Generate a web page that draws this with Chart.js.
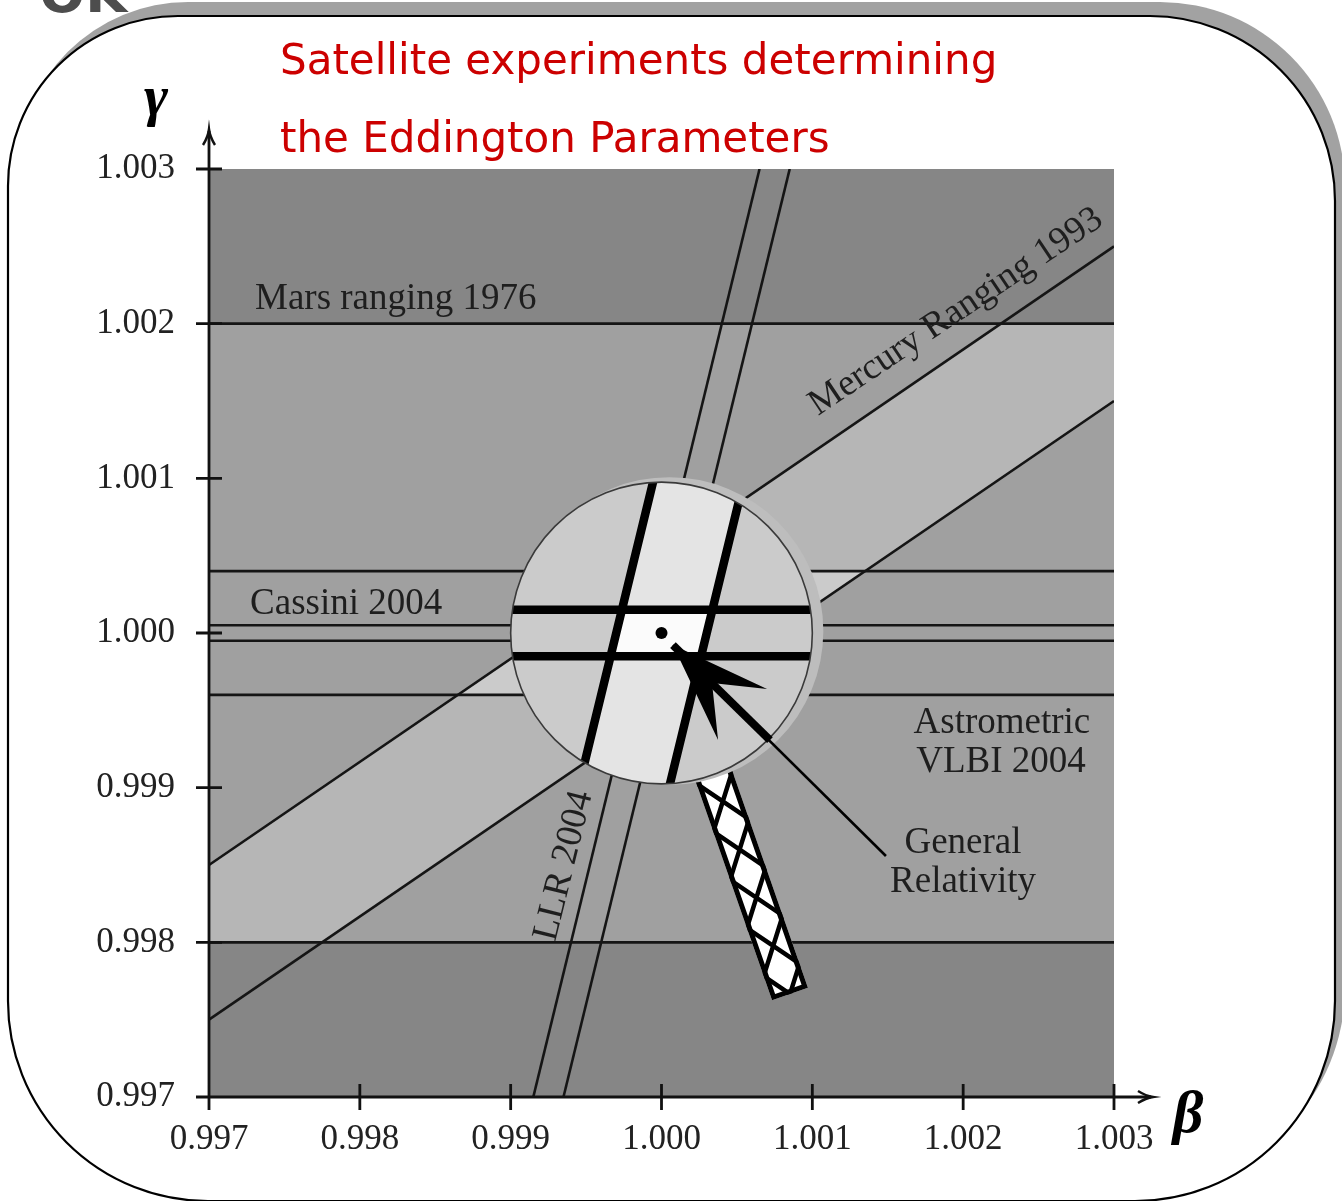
<!DOCTYPE html>
<html lang="en">
<head>
<meta charset="UTF-8" />
<title>Eddington parameters</title>
<script src="https://cdn.jsdelivr.net/npm/chart.js"></script>
<style>
  html, body { margin: 0; padding: 0; background: #fff; }
  canvas { display: block; }
</style>
</head>
<body>
<canvas id="chart" width="1342" height="1201"></canvas>
<script>
// tick values on both axes
const betaTicks = [0.997, 0.998, 0.999, 1.000, 1.001, 1.002, 1.003];
const gammaTicks = [0.997, 0.998, 0.999, 1.000, 1.001, 1.002, 1.003];

// horizontal limits on gamma
const marsBand = [0.998, 1.002];
const vlbiBand = [0.9996, 1.0004];
const cassiniBand = [0.99995, 1.00005];

// sloped limits, [beta, gamma] end points
const mercuryUpper = [[0.997, 0.9985], [1.003, 1.0025]];
const mercuryLower = [[0.997, 0.9975], [1.003, 1.0015]];
const llrLeft = [[0.99915, 0.997], [1.00065, 1.003]];
const llrRight = [[0.99935, 0.997], [1.00085, 1.003]];

// allowed regions, top and bottom edges
const marsMercuryTop = [[0.997, 0.9985], [1.00225, 1.002], [1.003, 1.002]];
const marsMercuryBottom = [[0.997, 0.998], [0.99775, 0.998], [1.003, 1.0015]];
const vlbiMercuryTop = [[0.99865, 0.9996], [0.99985, 1.0004], [1.00135, 1.0004]];
const vlbiMercuryBottom = [[0.99865, 0.9996], [1.00015, 0.9996], [1.00135, 1.0004]];

// general relativity point, arrow and the hatched strip
const grPoint = [1.0, 1.0];
const arrowHead = [[1.000076, 0.999922], [1.0007, 0.999638], [1.000335, 0.999677], [1.000375, 0.999308]];
const arrowShaft = [[1.000076, 0.999922], [1.000719, 0.999308], [1.001488, 0.998558]];
const strip = [[1.000262, 0.999315], [1.000852, 0.997666]];

const ZOOM = 3;
const zoomRadius = 0.001;

const notes = [
  { text: "Mars ranging 1976", at: [0.997305, 1.002095], align: "left" },
  { text: "Cassini 2004", at: [0.997272, 1.000123], align: "left" },
  { text: "Mercury Ranging 1993", at: [1.001038, 1.001403], align: "left", angle: -33.8 },
  { text: "LLR 2004", at: [0.999354, 0.998494], align: "center", angle: -76, middle: true },
  { text: "Astrometric", at: [1.002257, 0.999353], align: "center" },
  { text: "VLBI 2004", at: [1.002251, 0.999101], align: "center" },
  { text: "General", at: [1.001999, 0.998578], align: "center" },
  { text: "Relativity", at: [1.001999, 0.998325], align: "center" },
];

const GREY = {
  outside: "#868686",
  mars: "#a0a0a0",
  mercury: "#b6b6b6",
  vlbi: "#cbcbcb",
  llr: "#e4e4e4",
  cassini: "#fbfbfb",
};
const SERIF = '"Liberation Serif", "DejaVu Serif", serif';

const pts = (arr) => arr.map(([x, y]) => ({ x, y }));
const hline = (g) => pts([[betaTicks[0], g], [betaTicks[betaTicks.length - 1], g]]);

const fillSet = (data, color, order) => ({
  data,
  borderWidth: 0,
  pointRadius: 0,
  fill: color ? "+1" : false,
  backgroundColor: color || "transparent",
  order,
});
const lineSet = (data) => ({
  data,
  borderColor: "#151515",
  borderWidth: 2.6,
  pointRadius: 0,
  fill: false,
  order: 1,
});

const datasets = [
  fillSet(hline(marsBand[1]), GREY.mars, 30),
  fillSet(hline(marsBand[0]), null, 30),
  fillSet(pts(marsMercuryTop), GREY.mercury, 20),
  fillSet(pts(marsMercuryBottom), null, 20),
  fillSet(pts(vlbiMercuryTop), GREY.vlbi, 10),
  fillSet(pts(vlbiMercuryBottom), null, 10),
  lineSet(hline(marsBand[1])),
  lineSet(hline(marsBand[0])),
  lineSet(hline(vlbiBand[1])),
  lineSet(hline(vlbiBand[0])),
  lineSet(hline(cassiniBand[1])),
  lineSet(hline(cassiniBand[0])),
  lineSet(pts(mercuryUpper)),
  lineSet(pts(mercuryLower)),
  lineSet(pts(llrLeft)),
  lineSet(pts(llrRight)),
];

function drawStrip(ctx, px) {
  const a = px(strip[1]);
  const b = px(strip[0]);
  const len = Math.hypot(b.x - a.x, b.y - a.y);
  const hw = 19;
  const period = 51;
  ctx.save();
  ctx.translate(a.x, a.y);
  ctx.rotate(Math.atan2(b.y - a.y, b.x - a.x));
  ctx.beginPath();
  ctx.rect(0, -hw, len, 2 * hw);
  ctx.fillStyle = "#fff";
  ctx.fill();
  ctx.save();
  ctx.clip();
  ctx.strokeStyle = "#000";
  ctx.lineWidth = 4.5;
  ctx.beginPath();
  for (let s = -period * 0.5; s < len + period; s += period) {
    ctx.moveTo(s, -hw);
    ctx.lineTo(s + period, hw);
    ctx.moveTo(s, hw);
    ctx.lineTo(s + period, -hw);
  }
  ctx.stroke();
  ctx.restore();
  ctx.lineWidth = 5;
  ctx.strokeRect(2.5, -hw + 2.5, len - 5, 2 * hw - 5);
  ctx.restore();
}

function drawInset(ctx, xs, ys) {
  const cx = xs.getPixelForValue(grPoint[0]);
  const cy = ys.getPixelForValue(grPoint[1]);
  const r = xs.getPixelForValue(grPoint[0] + zoomRadius) - cx;
  const zp = ([b, g]) => ({
    x: cx + ZOOM * (xs.getPixelForValue(b) - cx),
    y: cy + ZOOM * (ys.getPixelForValue(g) - cy),
  });
  const poly = (list) => {
    ctx.beginPath();
    list.forEach((p, i) => (i ? ctx.lineTo(p.x, p.y) : ctx.moveTo(p.x, p.y)));
    ctx.closePath();
  };
  const llrPoly = [zp(llrLeft[0]), zp(llrLeft[1]), zp(llrRight[1]), zp(llrRight[0])];

  ctx.save();
  ctx.fillStyle = "#bdbdbd";
  ctx.beginPath();
  ctx.arc(cx + 8, cy - 2, r + 3, 0, Math.PI * 2);
  ctx.fill();

  ctx.beginPath();
  ctx.arc(cx, cy, r, 0, Math.PI * 2);
  ctx.save();
  ctx.clip();
  ctx.fillStyle = GREY.vlbi;
  ctx.fillRect(cx - r, cy - r, 2 * r, 2 * r);

  poly(llrPoly);
  ctx.fillStyle = GREY.llr;
  ctx.fill();

  const cTop = zp([grPoint[0], cassiniBand[1]]).y;
  const cBot = zp([grPoint[0], cassiniBand[0]]).y;
  ctx.save();
  ctx.beginPath();
  ctx.rect(cx - r, cTop, 2 * r, cBot - cTop);
  ctx.clip();
  poly(llrPoly);
  ctx.fillStyle = GREY.cassini;
  ctx.fill();
  ctx.restore();

  ctx.strokeStyle = "#000";
  ctx.lineWidth = 9;
  ctx.beginPath();
  [cTop, cBot].forEach((yy) => {
    ctx.moveTo(cx - r, yy);
    ctx.lineTo(cx + r, yy);
  });
  [llrLeft, llrRight].forEach((ln) => {
    const p = zp(ln[0]);
    const q = zp(ln[1]);
    ctx.moveTo(p.x, p.y);
    ctx.lineTo(q.x, q.y);
  });
  ctx.lineWidth = 8.5;
  ctx.stroke();

  ctx.fillStyle = "#000";
  ctx.beginPath();
  ctx.arc(cx, cy, 6, 0, Math.PI * 2);
  ctx.fill();
  ctx.restore();

  ctx.strokeStyle = "#3a3a3a";
  ctx.lineWidth = 1.6;
  ctx.beginPath();
  ctx.arc(cx, cy, r, 0, Math.PI * 2);
  ctx.stroke();
  ctx.restore();
}

function drawArrow(ctx, px) {
  const s = arrowShaft.map(px);
  const h = arrowHead.map(px);
  ctx.save();
  ctx.strokeStyle = "#000";
  ctx.fillStyle = "#000";
  ctx.lineWidth = 2.6;
  ctx.beginPath();
  ctx.moveTo(s[0].x, s[0].y);
  ctx.lineTo(s[2].x, s[2].y);
  ctx.stroke();
  ctx.lineWidth = 8;
  ctx.beginPath();
  ctx.moveTo(s[0].x, s[0].y);
  ctx.lineTo(s[1].x, s[1].y);
  ctx.stroke();
  ctx.beginPath();
  h.forEach((p, i) => (i ? ctx.lineTo(p.x, p.y) : ctx.moveTo(p.x, p.y)));
  ctx.closePath();
  ctx.fill();
  ctx.restore();
}

function drawAxes(ctx, area, xs, ys) {
  const { left, right, top, bottom } = area;
  ctx.save();
  ctx.strokeStyle = "#111";
  ctx.lineWidth = 2.8;
  ctx.beginPath();
  ctx.moveTo(left, bottom);
  ctx.lineTo(left, top - 38);
  ctx.moveTo(left, bottom);
  ctx.lineTo(right + 37, bottom);
  gammaTicks.forEach((v) => {
    const p = ys.getPixelForValue(v);
    ctx.moveTo(left - 13, p);
    ctx.lineTo(left + 13, p);
  });
  betaTicks.forEach((v) => {
    const p = xs.getPixelForValue(v);
    ctx.moveTo(p, bottom - 13);
    ctx.lineTo(p, bottom + 13);
  });
  ctx.stroke();
  // arrow heads
  ctx.lineWidth = 2.4;
  ctx.beginPath();
  ctx.moveTo(left - 6, top - 24);
  ctx.quadraticCurveTo(left - 1, top - 32, left, top - 40);
  ctx.quadraticCurveTo(left + 1, top - 32, left + 6, top - 24);
  ctx.moveTo(right + 24, bottom - 6);
  ctx.quadraticCurveTo(right + 32, bottom - 1, right + 39, bottom);
  ctx.quadraticCurveTo(right + 32, bottom + 1, right + 24, bottom + 6);
  ctx.stroke();
  ctx.restore();
}

function drawNotes(ctx, px) {
  ctx.save();
  ctx.fillStyle = "#1e1e1e";
  ctx.font = "37px " + SERIF;
  notes.forEach((n) => {
    const p = px(n.at);
    ctx.save();
    ctx.translate(p.x, p.y);
    if (n.angle) ctx.rotate((n.angle * Math.PI) / 180);
    ctx.textAlign = n.align;
    ctx.textBaseline = n.middle ? "middle" : "alphabetic";
    ctx.fillText(n.text, 0, 0);
    ctx.restore();
  });
  ctx.restore();
}

const sketch = {
  id: "sketch",
  beforeDraw(chart) {
    const ctx = chart.ctx;
    const radii = [170, 185, 200, 200];
    ctx.save();
    ctx.fillStyle = "#a2a2a2";
    ctx.beginPath();
    ctx.roundRect(18, 2, 1327, 1185, radii);
    ctx.fill();
    ctx.fillStyle = "#fff";
    ctx.beginPath();
    ctx.roundRect(8, 16, 1327, 1185, radii);
    ctx.fill();
    ctx.strokeStyle = "#000";
    ctx.lineWidth = 2.2;
    ctx.stroke();
    ctx.fillStyle = "#4d4d4d";
    ctx.font = 'bold 54px "DejaVu Sans"';
    ctx.textAlign = "right";
    ctx.fillText("OK", 127, 12);
    ctx.restore();
  },
  beforeDatasetsDraw(chart) {
    const { ctx, chartArea: a } = chart;
    ctx.save();
    ctx.fillStyle = GREY.outside;
    ctx.fillRect(a.left, a.top, a.right - a.left, a.bottom - a.top);
    ctx.restore();
  },
  afterDatasetsDraw(chart) {
    const { ctx, chartArea } = chart;
    const xs = chart.scales.x;
    const ys = chart.scales.y;
    const px = ([b, g]) => ({ x: xs.getPixelForValue(b), y: ys.getPixelForValue(g) });
    drawStrip(ctx, px);
    drawInset(ctx, xs, ys);
    drawArrow(ctx, px);
    drawAxes(ctx, chartArea, xs, ys);
    drawNotes(ctx, px);

    ctx.save();
    ctx.fillStyle = "#cc0000";
    ctx.font = '42px "DejaVu Sans"';
    ctx.textAlign = "left";
    ctx.fillText("Satellite experiments determining", 280, 74);
    ctx.fillText("the Eddington Parameters", 280, 152);
    ctx.fillStyle = "#000";
    ctx.textAlign = "center";
    ctx.font = "bold italic 58px " + SERIF;
    ctx.fillText("\u03b3", 156, 115);
    ctx.font = "bold italic 60px " + SERIF;
    ctx.fillText("\u03b2", 1188, 1132);
    ctx.restore();
  },
};

const tickFont = { family: SERIF, size: 35 };

new Chart(document.getElementById("chart"), {
  type: "line",
  data: { datasets },
  options: {
    responsive: false,
    animation: false,
    devicePixelRatio: 1,
    events: [],
    layout: { padding: { left: 0, top: 169, right: 228, bottom: 0 } },
    plugins: { legend: { display: false }, tooltip: { enabled: false } },
    elements: { line: { tension: 0 } },
    scales: {
      x: {
        type: "linear",
        min: betaTicks[0],
        max: betaTicks[betaTicks.length - 1],
        afterBuildTicks: (s) => { s.ticks = betaTicks.map((v) => ({ value: v })); },
        afterFit: (s) => { s.height = 104; },
        grid: { display: false, drawTicks: false },
        border: { display: false },
        ticks: {
          callback: (v) => v.toFixed(3),
          font: tickFont,
          color: "#222",
          padding: 22,
          maxRotation: 0,
          autoSkip: false,
        },
      },
      y: {
        type: "linear",
        min: gammaTicks[0],
        max: gammaTicks[gammaTicks.length - 1],
        afterBuildTicks: (s) => { s.ticks = gammaTicks.map((v) => ({ value: v })); },
        afterFit: (s) => { s.width = 209; },
        grid: { display: false, drawTicks: false },
        border: { display: false },
        ticks: {
          callback: (v) => v.toFixed(3),
          font: tickFont,
          color: "#222",
          padding: 34,
          autoSkip: false,
        },
      },
    },
  },
  plugins: [sketch],
});
</script>
</body>
</html>
